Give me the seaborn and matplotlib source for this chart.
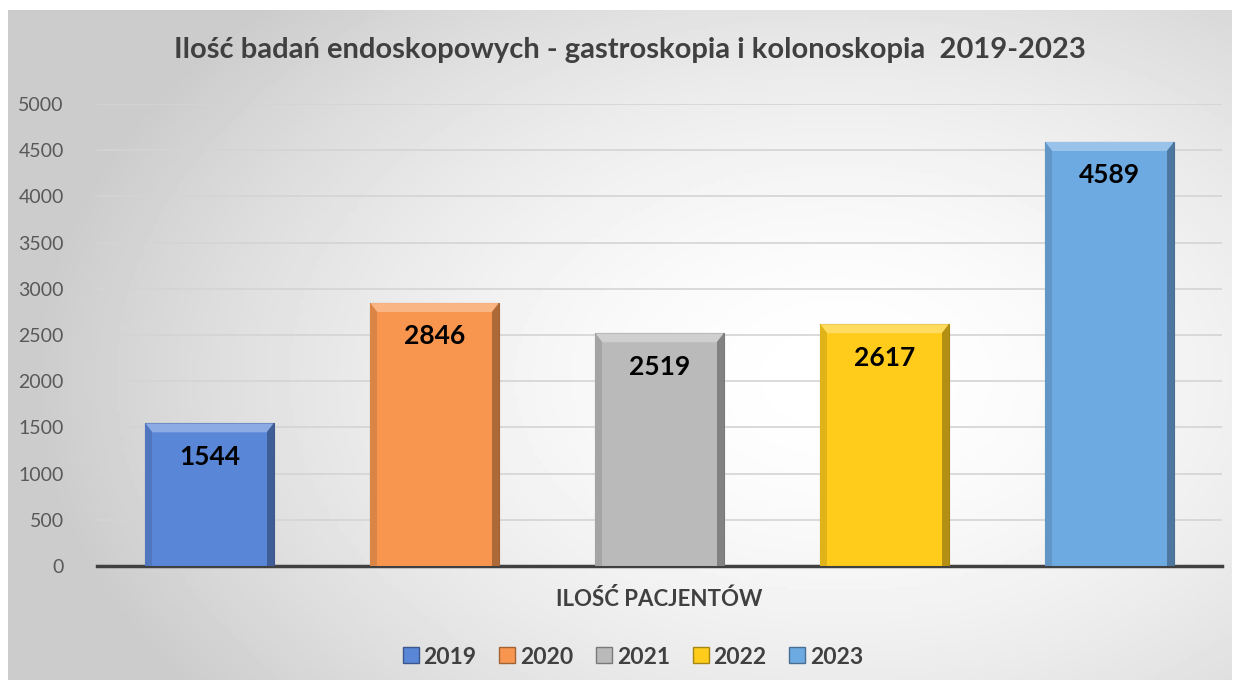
import numpy as np
import pandas as pd
import seaborn as sns
import matplotlib.pyplot as plt
from matplotlib.lines import Line2D
from matplotlib.patches import Polygon
from matplotlib.colors import to_rgb

# data
years = ['2019', '2020', '2021', '2022', '2023']
patients = [1544, 2846, 2519, 2617, 4589]
bar_colors = ['#5a86d8', '#f89650', '#bababa', '#ffcc1c', '#6eaae2']


def mix(c, other, t):
    c = np.array(to_rgb(c))
    return tuple(c * (1 - t) + np.array(other) * t)


df = pd.DataFrame({'rok': years, 'liczba': patients})

sns.set_theme(style='white')
plt.rcParams['font.family'] = ['Lato', 'DejaVu Sans']

fig = plt.figure(figsize=(12.4, 6.86), dpi=100)

# gray -> white gradient background of the chart area
bg = fig.add_axes([8 / 1240, 6 / 686, 1224 / 1240, 670 / 686], zorder=-10)
yy, xx = np.mgrid[0:1:200j, 0:1:360j]
dist = np.sqrt(((xx - 0.68) * 1.2) ** 2 + ((yy - 0.55) * 1.0) ** 2)
shade = np.clip(1.0 - 0.3 * dist ** 1.7, 0.8, 1.0)
bg.imshow(shade, cmap='gray', vmin=0, vmax=1, aspect='auto', extent=[0, 1, 0, 1])
bg.set_axis_off()

ax = fig.add_axes([97 / 1240, 1 - 566 / 686, 1125 / 1240, 462 / 686])
ax.patch.set_alpha(0)

sns.barplot(data=df, x='rok', y='liczba', hue='rok', palette=bar_colors,
            dodge=False, width=0.57, saturation=1, legend=False, ax=ax, zorder=3)

# bevel look: lighter top, darker sides
dx = 7 / 225
dy = 9 * 5000 / 462
for patch, c in zip(ax.patches, bar_colors):
    patch.set_edgecolor(mix(c, (0, 0, 0), 0.35))
    patch.set_linewidth(0.8)
    x0 = patch.get_x()
    x1 = x0 + patch.get_width()
    h = patch.get_height()
    parts = [
        ([(x0, h), (x1, h), (x1 - dx, h - dy), (x0 + dx, h - dy)], mix(c, (1, 1, 1), 0.3)),
        ([(x1, h), (x1, 0), (x1 - dx, 0), (x1 - dx, h - dy)], mix(c, (0, 0, 0), 0.3)),
        ([(x0, h), (x0, 0), (x0 + dx, 0), (x0 + dx, h - dy)], mix(c, (0, 0, 0), 0.12)),
    ]
    for pts, col in parts:
        ax.add_patch(Polygon(pts, closed=True, facecolor=col, edgecolor='none', zorder=4))

for i, v in enumerate(patients):
    ax.annotate(str(v), (i, v), xytext=(0, -24), textcoords='offset points',
                ha='center', va='center', fontsize=19, fontweight='bold',
                color='black', zorder=5)

ax.set_xlim(-0.5, 4.5)
ax.set_ylim(0, 5000)
ax.set_yticks(range(0, 5001, 500))
ax.tick_params(axis='y', labelsize=14, labelcolor='#595959', length=0, pad=24)
ax.set_xticks([])
ax.grid(axis='y', color='#d4d4d4', linewidth=1.2, zorder=0)
ax.set_axisbelow(True)
for side in ['left', 'right', 'top']:
    ax.spines[side].set_visible(False)
ax.spines['bottom'].set_color('#404040')
ax.spines['bottom'].set_linewidth(2.5)

ax.set_xlabel('ILOŚĆ PACJENTÓW', fontsize=16, fontweight='bold', color='#404040', labelpad=16)
ax.set_ylabel('')

fig.text(0.508, 1 - 50 / 686, 'Ilość badań endoskopowych - gastroskopia i kolonoskopia  2019-2023',
         ha='center', va='center', fontsize=21, fontweight='bold', color='#404040')

handles = [Line2D([], [], marker='s', linestyle='', markersize=12,
                  markerfacecolor=c, markeredgecolor=mix(c, (0, 0, 0), 0.35))
           for c in bar_colors]
fig.legend(handles, years, loc='center', bbox_to_anchor=(0.509, 1 - 657 / 686), ncol=5,
           frameon=False, handletextpad=0.05, handlelength=1.0, columnspacing=0.85,
           prop={'size': 16.5, 'weight': 'bold'}, labelcolor='#404040')

fig.savefig('out.png', dpi=100)
